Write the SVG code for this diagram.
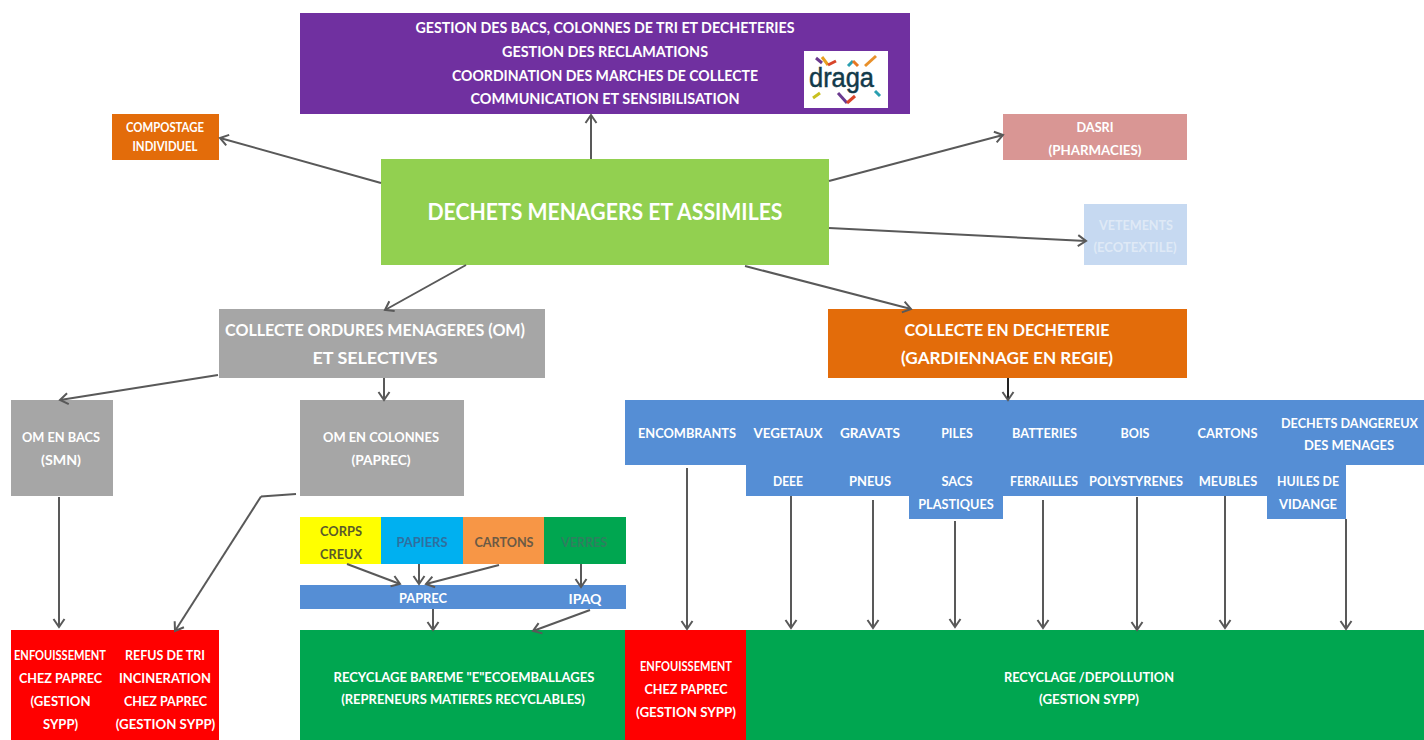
<svg xmlns="http://www.w3.org/2000/svg" width="1424" height="740" viewBox="0 0 1424 740">
<style>
text{font-family:"Lato","Liberation Sans",sans-serif;font-weight:700;font-size:14px;fill:#fff;text-anchor:middle}
.top{font-size:14.5px}
.s{font-size:13px}
.m{font-size:17px}
.xl{font-size:22.5px}
.dark{fill:#5a5a2a}
.conn line,.conn path{stroke:#595959;stroke-width:2;fill:none;marker-end:url(#a)}
.conn path.plain{marker-end:none}
</style>
<defs><marker id="a" markerUnits="userSpaceOnUse" markerWidth="14" markerHeight="14" refX="11" refY="7" orient="auto" viewBox="0 0 14 14"><path d="M3 1.5L11 7L3 12.5" fill="none" stroke="#595959" stroke-width="2"/></marker></defs>
<rect width="1424" height="740" fill="#fff"/>
<g id="gestion"><rect x="300" y="13" width="610" height="101" fill="#7030a0"/>
<text x="605" y="33" class="top" textLength="379" lengthAdjust="spacingAndGlyphs">GESTION DES BACS, COLONNES DE TRI ET DECHETERIES</text>
<text x="605" y="57" class="top" textLength="206" lengthAdjust="spacingAndGlyphs">GESTION DES RECLAMATIONS</text>
<text x="605" y="81" class="top" textLength="306" lengthAdjust="spacingAndGlyphs">COORDINATION DES MARCHES DE COLLECTE</text>
<text x="605" y="104" class="top" textLength="269" lengthAdjust="spacingAndGlyphs">COMMUNICATION ET SENSIBILISATION</text></g>
<g id="logo"><rect x="804" y="51" width="84" height="57" fill="#fff"/>
<g fill="none" stroke-width="3"><path d="M816 58L822 63" stroke="#6b3a8f"/><path d="M822 57L828 65" stroke="#e8a020"/><path d="M828 65L836 61" stroke="#d8452a"/><path d="M848 66L853 61" stroke="#2a9fb0"/><path d="M853 61L858 66" stroke="#e87722"/><path d="M865 66L876 56" stroke="#e8902a"/><path d="M813 98L820 93" stroke="#c8c020"/><path d="M838 93L847 103" stroke="#6b3a8f"/><path d="M847 103L855 96" stroke="#d8452a"/><path d="M875 91L880 96" stroke="#2a9fb0"/></g>
<text x="841.5" y="87" textLength="65" lengthAdjust="spacingAndGlyphs" stroke="#123a4a" stroke-width=".5" style="font-family:'Liberation Sans',sans-serif;font-weight:400;font-size:27px;fill:#123a4a">draga</text></g>
<g id="compostage"><rect x="112" y="114" width="107" height="46" fill="#e36c0a"/><text x="165" y="132" class="s" textLength="78" lengthAdjust="spacingAndGlyphs">COMPOSTAGE</text><text x="165" y="151" class="s" textLength="65" lengthAdjust="spacingAndGlyphs">INDIVIDUEL</text></g>
<g id="dasri"><rect x="1003" y="114" width="184" height="46" fill="#d99694"/><text x="1095" y="132" textLength="37" lengthAdjust="spacingAndGlyphs">DASRI</text><text x="1095" y="155" textLength="93" lengthAdjust="spacingAndGlyphs">(PHARMACIES)</text></g>
<g id="vetements"><rect x="1084" y="204" width="103" height="61" fill="#c6d9f1"/><text x="1136" y="230" textLength="74" lengthAdjust="spacingAndGlyphs" style="fill:#dfe9f6">VETEMENTS</text><text x="1135" y="252" textLength="83" lengthAdjust="spacingAndGlyphs" style="fill:#dfe9f6">(ECOTEXTILE)</text></g>
<g id="dechets"><rect x="381" y="159" width="448" height="106" fill="#92d050"/><text x="605" y="220" class="xl" textLength="355" lengthAdjust="spacingAndGlyphs">DECHETS MENAGERS ET ASSIMILES</text></g>
<g id="collecte-om"><rect x="219" y="309" width="326" height="69" fill="#a6a6a6"/><text x="375" y="336" class="m" textLength="300" lengthAdjust="spacingAndGlyphs">COLLECTE ORDURES MENAGERES (OM)</text><text x="375" y="364" class="m" textLength="125" lengthAdjust="spacingAndGlyphs">ET SELECTIVES</text></g>
<g id="collecte-decheterie"><rect x="828" y="309" width="359" height="69" fill="#e36c0a"/><text x="1007" y="336" class="m" textLength="205" lengthAdjust="spacingAndGlyphs">COLLECTE EN DECHETERIE</text><text x="1007" y="364" class="m" textLength="212" lengthAdjust="spacingAndGlyphs">(GARDIENNAGE EN REGIE)</text></g>
<g id="om-bacs"><rect x="11" y="400" width="102" height="96" fill="#a6a6a6"/><text x="61" y="442" class="s" textLength="78" lengthAdjust="spacingAndGlyphs">OM EN BACS</text><text x="61" y="465" class="s" textLength="40" lengthAdjust="spacingAndGlyphs">(SMN)</text></g>
<g id="om-colonnes"><rect x="300" y="400" width="164" height="96" fill="#a6a6a6"/><text x="381" y="442" class="s" textLength="116" lengthAdjust="spacingAndGlyphs">OM EN COLONNES</text><text x="381" y="465" class="s" textLength="59" lengthAdjust="spacingAndGlyphs">(PAPREC)</text></g>
<g id="flux"><path d="M625 400H1424V465H1346V519H1267V496H1003V519H909V496H746V465H625Z" fill="#558ed5"/>
<text x="687" y="438" textLength="98" lengthAdjust="spacingAndGlyphs">ENCOMBRANTS</text><text x="788" y="438" textLength="69" lengthAdjust="spacingAndGlyphs">VEGETAUX</text><text x="870" y="438" textLength="60" lengthAdjust="spacingAndGlyphs">GRAVATS</text><text x="957" y="438" textLength="31.5" lengthAdjust="spacingAndGlyphs">PILES</text><text x="1044.5" y="438" textLength="65" lengthAdjust="spacingAndGlyphs">BATTERIES</text><text x="1135" y="438" textLength="29" lengthAdjust="spacingAndGlyphs">BOIS</text><text x="1227.5" y="438" textLength="60" lengthAdjust="spacingAndGlyphs">CARTONS</text><text x="1349.5" y="428" class="s" textLength="137" lengthAdjust="spacingAndGlyphs">DECHETS DANGEREUX</text><text x="1349" y="450" textLength="90" lengthAdjust="spacingAndGlyphs">DES MENAGES</text>
<text x="788" y="486" textLength="30" lengthAdjust="spacingAndGlyphs">DEEE</text><text x="870" y="486" textLength="42" lengthAdjust="spacingAndGlyphs">PNEUS</text><text x="957" y="486" textLength="31" lengthAdjust="spacingAndGlyphs">SACS</text><text x="956" y="509" textLength="75.5" lengthAdjust="spacingAndGlyphs">PLASTIQUES</text><text x="1044" y="486" textLength="68" lengthAdjust="spacingAndGlyphs">FERRAILLES</text><text x="1136" y="486" textLength="94" lengthAdjust="spacingAndGlyphs">POLYSTYRENES</text><text x="1228" y="486" textLength="58.5" lengthAdjust="spacingAndGlyphs">MEUBLES</text><text x="1308" y="486" textLength="62" lengthAdjust="spacingAndGlyphs">HUILES DE</text><text x="1308" y="509" textLength="58" lengthAdjust="spacingAndGlyphs">VIDANGE</text></g>
<g id="corps-creux"><rect x="300" y="517" width="81" height="47" fill="#ffff00"/><text x="341" y="536" class="dark" textLength="42" lengthAdjust="spacingAndGlyphs">CORPS</text><text x="341" y="559" class="dark" textLength="42" lengthAdjust="spacingAndGlyphs">CREUX</text></g>
<g id="papiers"><rect x="381" y="517" width="82" height="47" fill="#00b0f0"/><text x="422" y="547" textLength="51" lengthAdjust="spacingAndGlyphs" style="fill:#2f6f9f">PAPIERS</text></g>
<g id="cartons"><rect x="463" y="517" width="81" height="47" fill="#f79646"/><text x="504" y="547" textLength="59" lengthAdjust="spacingAndGlyphs" style="fill:#6b5a45">CARTONS</text></g>
<g id="verres"><rect x="544" y="517" width="82" height="47" fill="#00a650"/><text x="584" y="547" textLength="46" lengthAdjust="spacingAndGlyphs" style="fill:#2f7f5f">VERRES</text></g>
<g id="paprec"><rect x="300" y="585" width="326" height="24" fill="#558ed5"/><text x="423" y="603" textLength="48" lengthAdjust="spacingAndGlyphs">PAPREC</text><text x="585" y="604" textLength="33" lengthAdjust="spacingAndGlyphs">IPAQ</text></g>
<g id="refus"><rect x="11" y="630" width="208" height="110" fill="#ff0000"/>
<text x="60" y="660" textLength="92" lengthAdjust="spacingAndGlyphs">ENFOUISSEMENT</text><text x="60.5" y="683" textLength="83" lengthAdjust="spacingAndGlyphs">CHEZ PAPREC</text><text x="60.5" y="706" textLength="60" lengthAdjust="spacingAndGlyphs">(GESTION</text><text x="60.5" y="729" textLength="35" lengthAdjust="spacingAndGlyphs">SYPP)</text>
<text x="165" y="660" textLength="80" lengthAdjust="spacingAndGlyphs">REFUS DE TRI</text><text x="165" y="683" textLength="92" lengthAdjust="spacingAndGlyphs">INCINERATION</text><text x="165.5" y="706" textLength="83" lengthAdjust="spacingAndGlyphs">CHEZ PAPREC</text><text x="165.5" y="729" textLength="99.5" lengthAdjust="spacingAndGlyphs">(GESTION SYPP)</text></g>
<g id="recyclage-bareme"><rect x="300" y="630" width="326" height="110" fill="#00a650"/><text x="464" y="682" textLength="261" lengthAdjust="spacingAndGlyphs">RECYCLAGE BAREME "E"ECOEMBALLAGES</text><text x="463" y="704" textLength="243.5" lengthAdjust="spacingAndGlyphs">(REPRENEURS MATIERES RECYCLABLES)</text></g>
<g id="enfouissement"><rect x="625" y="630" width="121" height="110" fill="#ff0000"/><text x="686" y="671" textLength="92" lengthAdjust="spacingAndGlyphs">ENFOUISSEMENT</text><text x="686" y="694" textLength="83" lengthAdjust="spacingAndGlyphs">CHEZ PAPREC</text><text x="686" y="717" textLength="100" lengthAdjust="spacingAndGlyphs">(GESTION SYPP)</text></g>
<g id="recyclage-depollution"><rect x="746" y="630" width="678" height="110" fill="#00a650"/><text x="1089" y="682" textLength="170" lengthAdjust="spacingAndGlyphs">RECYCLAGE /DEPOLLUTION</text><text x="1089" y="704" textLength="100" lengthAdjust="spacingAndGlyphs">(GESTION SYPP)</text></g>
<g class="conn" id="connectors">
<line x1="591" y1="159" x2="591" y2="115"/><line x1="381" y1="183" x2="220" y2="138"/><line x1="829" y1="181" x2="1003" y2="135"/><line x1="829" y1="228" x2="1086" y2="241"/>
<line x1="466" y1="265" x2="385" y2="310"/><line x1="745" y1="266" x2="911" y2="309"/><line x1="218" y1="375" x2="60" y2="400"/>
<line x1="384" y1="378" x2="384" y2="400"/>
<line x1="1008" y1="378" x2="1008" y2="400" style="stroke:#222"/>
<line x1="59" y1="497" x2="59" y2="627"/><path class="plain" d="M296 494L261 496.5"/><line x1="261" y1="496.5" x2="175" y2="631"/>
<line x1="347" y1="564" x2="400" y2="584"/><line x1="419" y1="564" x2="419" y2="584"/><line x1="499" y1="565" x2="426" y2="584"/><line x1="581" y1="564" x2="581" y2="587"/>
<line x1="433" y1="609" x2="433" y2="630"/><line x1="590" y1="610" x2="533" y2="631"/>
<line x1="687" y1="468" x2="687" y2="629"/><line x1="791" y1="496" x2="791" y2="628"/><line x1="873" y1="500" x2="873" y2="628"/><line x1="955" y1="521" x2="955" y2="627"/><line x1="1043" y1="500" x2="1043" y2="628"/><line x1="1137" y1="497" x2="1137" y2="630"/><line x1="1225" y1="496" x2="1225" y2="628"/><line x1="1346" y1="519" x2="1346" y2="629"/>
</g>
</svg>
